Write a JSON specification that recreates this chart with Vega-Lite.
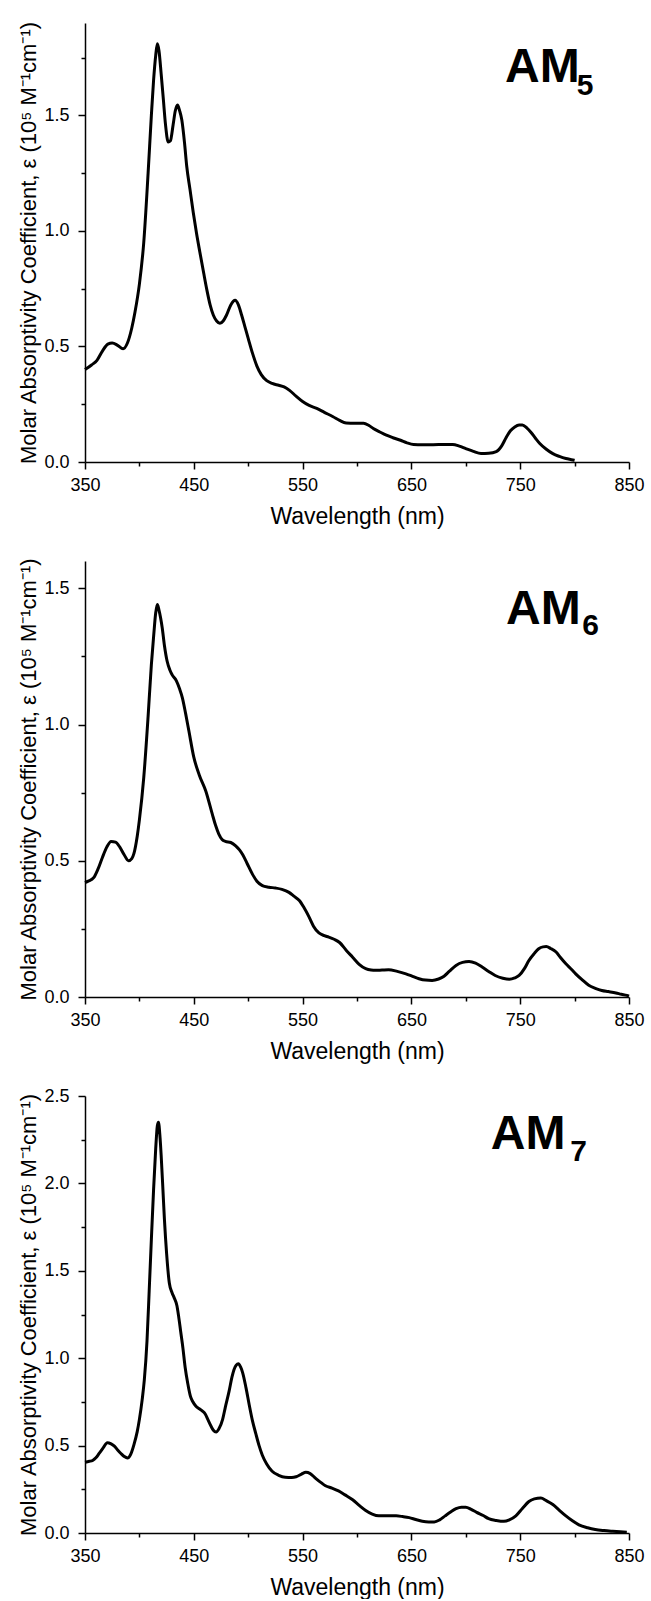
{
"$schema": "https://vega.github.io/schema/vega-lite/v6.json",
"background": "white",
"padding": {"left": 17, "top": 20, "right": 5, "bottom": 0},
"bounds": "flush",
"spacing": 99,
"config": {
 "view": {"stroke": null},
 "font": "Liberation Sans",
 "axis": {"grid": false, "domainColor": "black", "tickColor": "black", "labelColor": "black", "titleColor": "black", "domainWidth": 1.5, "tickWidth": 1.5, "labelFlush": false, "labelOverlap": false, "labelFont": "Liberation Sans", "titleFont": "Liberation Sans", "labelFontSize": 18, "titleFontWeight": "normal"}
},
"datasets": {
 "am5": [
  {"wl":350,"eps":0.40},{"wl":356,"eps":0.42},{"wl":361,"eps":0.44},{"wl":366,"eps":0.48},{"wl":371,"eps":0.51},{"wl":375,"eps":0.515},{"wl":380,"eps":0.505},{"wl":385,"eps":0.49},{"wl":389,"eps":0.515},{"wl":393,"eps":0.58},{"wl":396,"eps":0.65},{"wl":400,"eps":0.77},{"wl":404,"eps":0.95},{"wl":408,"eps":1.25},{"wl":411,"eps":1.5},{"wl":413,"eps":1.65},{"wl":415,"eps":1.76},{"wl":416.5,"eps":1.81},{"wl":418,"eps":1.78},{"wl":420,"eps":1.68},{"wl":422,"eps":1.57},{"wl":424,"eps":1.46},{"wl":426.5,"eps":1.385},{"wl":428.5,"eps":1.39},{"wl":431,"eps":1.46},{"wl":433,"eps":1.52},{"wl":435,"eps":1.545},{"wl":437,"eps":1.52},{"wl":439,"eps":1.48},{"wl":441.5,"eps":1.38},{"wl":443.5,"eps":1.28},{"wl":446.5,"eps":1.18},{"wl":449.5,"eps":1.08},{"wl":452.5,"eps":0.99},{"wl":455.5,"eps":0.91},{"wl":459,"eps":0.82},{"wl":462,"eps":0.745},{"wl":465,"eps":0.68},{"wl":468,"eps":0.635},{"wl":471,"eps":0.61},{"wl":474,"eps":0.60},{"wl":477,"eps":0.61},{"wl":480,"eps":0.635},{"wl":484,"eps":0.68},{"wl":488,"eps":0.70},{"wl":491,"eps":0.68},{"wl":494,"eps":0.635},{"wl":497,"eps":0.585},{"wl":500,"eps":0.535},{"wl":504,"eps":0.47},{"wl":508,"eps":0.415},{"wl":512,"eps":0.378},{"wl":517,"eps":0.352},{"wl":522,"eps":0.34},{"wl":528,"eps":0.332},{"wl":533,"eps":0.325},{"wl":538,"eps":0.31},{"wl":544,"eps":0.285},{"wl":550,"eps":0.262},{"wl":556,"eps":0.245},{"wl":563,"eps":0.232},{"wl":570,"eps":0.215},{"wl":578,"eps":0.196},{"wl":584,"eps":0.18},{"wl":590,"eps":0.169},{"wl":598,"eps":0.168},{"wl":606,"eps":0.168},{"wl":611,"eps":0.158},{"wl":615,"eps":0.145},{"wl":621,"eps":0.13},{"wl":627,"eps":0.116},{"wl":633,"eps":0.105},{"wl":640,"eps":0.094},{"wl":646,"eps":0.083},{"wl":652,"eps":0.076},{"wl":660,"eps":0.075},{"wl":670,"eps":0.075},{"wl":680,"eps":0.076},{"wl":688,"eps":0.076},{"wl":694,"eps":0.069},{"wl":700,"eps":0.058},{"wl":707,"eps":0.046},{"wl":714,"eps":0.037},{"wl":721,"eps":0.038},{"wl":728,"eps":0.045},{"wl":733,"eps":0.07},{"wl":737,"eps":0.105},{"wl":741,"eps":0.135},{"wl":745,"eps":0.152},{"wl":749,"eps":0.16},{"wl":752,"eps":0.16},{"wl":756,"eps":0.148},{"wl":760,"eps":0.128},{"wl":764,"eps":0.103},{"wl":768,"eps":0.08},{"wl":774,"eps":0.055},{"wl":780,"eps":0.036},{"wl":786,"eps":0.024},{"wl":792,"eps":0.015},{"wl":797,"eps":0.01},{"wl":800,"eps":0.007}
 ],
 "am6": [
  {"wl":350,"eps":0.42},{"wl":353,"eps":0.425},{"wl":358,"eps":0.438},{"wl":362,"eps":0.47},{"wl":366,"eps":0.512},{"wl":370,"eps":0.55},{"wl":374,"eps":0.571},{"wl":378,"eps":0.568},{"wl":382,"eps":0.55},{"wl":386,"eps":0.522},{"wl":390,"eps":0.50},{"wl":393,"eps":0.508},{"wl":395,"eps":0.527},{"wl":398,"eps":0.59},{"wl":400,"eps":0.65},{"wl":404,"eps":0.805},{"wl":408,"eps":1.03},{"wl":411,"eps":1.22},{"wl":413,"eps":1.32},{"wl":415,"eps":1.41},{"wl":416.5,"eps":1.44},{"wl":418,"eps":1.42},{"wl":421,"eps":1.354},{"wl":423,"eps":1.29},{"wl":425.5,"eps":1.232},{"wl":428,"eps":1.2},{"wl":430,"eps":1.183},{"wl":434,"eps":1.16},{"wl":437,"eps":1.13},{"wl":439.5,"eps":1.098},{"wl":442.5,"eps":1.04},{"wl":445.5,"eps":0.976},{"wl":450,"eps":0.88},{"wl":455,"eps":0.815},{"wl":461,"eps":0.756},{"wl":467,"eps":0.671},{"wl":470,"eps":0.63},{"wl":473,"eps":0.598},{"wl":476,"eps":0.578},{"wl":479,"eps":0.571},{"wl":484,"eps":0.567},{"wl":488.5,"eps":0.555},{"wl":492,"eps":0.54},{"wl":495,"eps":0.522},{"wl":499,"eps":0.49},{"wl":504,"eps":0.45},{"wl":508,"eps":0.425},{"wl":513,"eps":0.409},{"wl":519,"eps":0.403},{"wl":525,"eps":0.40},{"wl":531,"eps":0.395},{"wl":537.5,"eps":0.384},{"wl":542,"eps":0.37},{"wl":547,"eps":0.354},{"wl":551,"eps":0.33},{"wl":556,"eps":0.293},{"wl":560,"eps":0.26},{"wl":565,"eps":0.235},{"wl":570,"eps":0.225},{"wl":574,"eps":0.22},{"wl":579,"eps":0.212},{"wl":584,"eps":0.2},{"wl":590,"eps":0.172},{"wl":596,"eps":0.146},{"wl":602,"eps":0.12},{"wl":608,"eps":0.104},{"wl":613,"eps":0.099},{"wl":617,"eps":0.098},{"wl":623,"eps":0.099},{"wl":629,"eps":0.10},{"wl":637,"eps":0.094},{"wl":645,"eps":0.085},{"wl":651,"eps":0.076},{"wl":657,"eps":0.067},{"wl":663,"eps":0.062},{"wl":669,"eps":0.061},{"wl":675,"eps":0.066},{"wl":680,"eps":0.076},{"wl":685,"eps":0.095},{"wl":691,"eps":0.116},{"wl":697,"eps":0.127},{"wl":703,"eps":0.13},{"wl":709,"eps":0.124},{"wl":715,"eps":0.11},{"wl":721,"eps":0.094},{"wl":727,"eps":0.079},{"wl":734,"eps":0.069},{"wl":740,"eps":0.065},{"wl":745,"eps":0.07},{"wl":749,"eps":0.079},{"wl":754,"eps":0.105},{"wl":758,"eps":0.134},{"wl":763,"eps":0.16},{"wl":767,"eps":0.177},{"wl":771,"eps":0.184},{"wl":774,"eps":0.185},{"wl":778,"eps":0.178},{"wl":783,"eps":0.165},{"wl":787,"eps":0.145},{"wl":792,"eps":0.122},{"wl":797,"eps":0.102},{"wl":801,"eps":0.085},{"wl":807,"eps":0.063},{"wl":813,"eps":0.043},{"wl":819,"eps":0.032},{"wl":825,"eps":0.024},{"wl":831,"eps":0.02},{"wl":838,"eps":0.015},{"wl":843,"eps":0.01},{"wl":848,"eps":0.006},{"wl":850,"eps":0.003}
 ],
 "am7": [
  {"wl":350,"eps":0.405},{"wl":354,"eps":0.41},{"wl":357,"eps":0.415},{"wl":360,"eps":0.43},{"wl":363,"eps":0.455},{"wl":367,"eps":0.49},{"wl":370.5,"eps":0.517},{"wl":374,"eps":0.51},{"wl":377,"eps":0.497},{"wl":380,"eps":0.475},{"wl":383,"eps":0.455},{"wl":386,"eps":0.438},{"wl":389,"eps":0.429},{"wl":392,"eps":0.45},{"wl":395,"eps":0.506},{"wl":398,"eps":0.58},{"wl":400,"eps":0.65},{"wl":402.5,"eps":0.76},{"wl":404.5,"eps":0.874},{"wl":407,"eps":1.1},{"wl":409,"eps":1.386},{"wl":411,"eps":1.68},{"wl":413,"eps":1.96},{"wl":415,"eps":2.2},{"wl":416.5,"eps":2.33},{"wl":417.5,"eps":2.35},{"wl":419,"eps":2.26},{"wl":420,"eps":2.16},{"wl":421.5,"eps":1.98},{"wl":423,"eps":1.794},{"wl":425,"eps":1.6},{"wl":427.5,"eps":1.43},{"wl":430,"eps":1.375},{"wl":432,"eps":1.345},{"wl":434.5,"eps":1.3},{"wl":436,"eps":1.242},{"wl":438,"eps":1.15},{"wl":440,"eps":1.058},{"wl":442,"eps":0.95},{"wl":444.5,"eps":0.854},{"wl":447,"eps":0.78},{"wl":449,"eps":0.752},{"wl":452,"eps":0.725},{"wl":455,"eps":0.711},{"wl":458,"eps":0.697},{"wl":460.5,"eps":0.681},{"wl":463,"eps":0.648},{"wl":466,"eps":0.609},{"wl":468,"eps":0.588},{"wl":470.5,"eps":0.578},{"wl":473,"eps":0.595},{"wl":476.5,"eps":0.65},{"wl":479,"eps":0.72},{"wl":482.5,"eps":0.813},{"wl":485,"eps":0.89},{"wl":487,"eps":0.936},{"wl":489,"eps":0.96},{"wl":491,"eps":0.968},{"wl":493,"eps":0.95},{"wl":495,"eps":0.915},{"wl":498,"eps":0.83},{"wl":501,"eps":0.731},{"wl":504,"eps":0.64},{"wl":507,"eps":0.568},{"wl":510,"eps":0.5},{"wl":513,"eps":0.445},{"wl":517,"eps":0.395},{"wl":522,"eps":0.353},{"wl":528,"eps":0.33},{"wl":534,"eps":0.319},{"wl":540,"eps":0.318},{"wl":544,"eps":0.322},{"wl":549,"eps":0.337},{"wl":553,"eps":0.347},{"wl":557,"eps":0.34},{"wl":562,"eps":0.313},{"wl":567,"eps":0.288},{"wl":571,"eps":0.27},{"wl":577,"eps":0.257},{"wl":583,"eps":0.241},{"wl":589,"eps":0.218},{"wl":596,"eps":0.19},{"wl":602,"eps":0.158},{"wl":608,"eps":0.129},{"wl":614,"eps":0.108},{"wl":620,"eps":0.098},{"wl":628,"eps":0.098},{"wl":636,"eps":0.098},{"wl":642,"eps":0.094},{"wl":648,"eps":0.088},{"wl":654,"eps":0.077},{"wl":660,"eps":0.067},{"wl":666,"eps":0.063},{"wl":671,"eps":0.063},{"wl":676,"eps":0.075},{"wl":681,"eps":0.098},{"wl":686,"eps":0.12},{"wl":691,"eps":0.139},{"wl":696,"eps":0.148},{"wl":700,"eps":0.148},{"wl":705,"eps":0.135},{"wl":710,"eps":0.118},{"wl":716,"eps":0.1},{"wl":721,"eps":0.082},{"wl":728,"eps":0.072},{"wl":735,"eps":0.067},{"wl":740,"eps":0.075},{"wl":746,"eps":0.098},{"wl":752,"eps":0.14},{"wl":758,"eps":0.18},{"wl":763,"eps":0.195},{"wl":769,"eps":0.2},{"wl":774,"eps":0.185},{"wl":780,"eps":0.163},{"wl":786,"eps":0.13},{"wl":792,"eps":0.098},{"wl":798,"eps":0.07},{"wl":804,"eps":0.047},{"wl":812,"eps":0.03},{"wl":819,"eps":0.02},{"wl":827,"eps":0.014},{"wl":835,"eps":0.01},{"wl":842,"eps":0.007},{"wl":848,"eps":0.005}
 ],
 "labels": [
  {"panel":"AM5","part":"main","text":"AM","wl":736,"eps":1.645},
  {"panel":"AM5","part":"sub","text":"5","wl":802,"eps":1.587},
  {"panel":"AM6","part":"main","text":"AM","wl":737,"eps":1.368},
  {"panel":"AM6","part":"sub","text":"6","wl":807,"eps":1.329},
  {"panel":"AM7","part":"main","text":"AM","wl":723,"eps":2.194},
  {"panel":"AM7","part":"sub","text":"7","wl":796,"eps":2.126}
 ]
},
"vconcat": [
 {
  "width": 544, "height": 439,
  "layer": [
   {"data": {"name": "am5"}, "mark": {"type": "line", "color": "black", "strokeWidth": 3, "interpolate": "monotone"},
    "encoding": {
     "x": {"field": "wl", "type": "quantitative", "scale": {"domain": [350, 850], "nice": false, "zero": false},
       "axis": {"values": [350,400,450,500,550,600,650,700,750,800,850], "labelExpr": "datum.value % 100 === 50 ? datum.label : ''", "tickSize": {"condition": {"test": "datum.value % 100 === 50", "value": 7}, "value": 4}, "labelPadding": 7, "title": "Wavelength (nm)", "titleFontSize": 23, "titlePadding": 11}},
     "y": {"field": "eps", "type": "quantitative", "scale": {"domain": [0, 1.9], "nice": false},
       "axis": {"values": [0,0.25,0.5,0.75,1,1.25,1.5,1.75], "labelExpr": "abs(datum.value*2 - round(datum.value*2)) < 0.001 ? format(datum.value, '.1f') : ''", "tickSize": {"condition": {"test": "abs(datum.value*2 - round(datum.value*2)) < 0.001", "value": 7}, "value": 4}, "labelPadding": 9, "title": "Molar Absorptivity Coefficient, ε (10⁵ M⁻¹cm⁻¹)", "titleFontSize": 22, "titlePadding": 3}}
    }},
   {"data": {"name": "labels"}, "transform": [{"filter": "datum.panel === 'AM5' && datum.part === 'main'"}],
    "mark": {"type": "text", "fontWeight": "bold", "fontSize": 48, "align": "left", "baseline": "alphabetic", "color": "black"},
    "encoding": {"x": {"field": "wl", "type": "quantitative"}, "y": {"field": "eps", "type": "quantitative"}, "text": {"field": "text"}}},
   {"data": {"name": "labels"}, "transform": [{"filter": "datum.panel === 'AM5' && datum.part === 'sub'"}],
    "mark": {"type": "text", "fontWeight": "bold", "fontSize": 30, "align": "left", "baseline": "alphabetic", "color": "black"},
    "encoding": {"x": {"field": "wl", "type": "quantitative"}, "y": {"field": "eps", "type": "quantitative"}, "text": {"field": "text"}}}
  ]
 },
 {
  "width": 544, "height": 436,
  "layer": [
   {"data": {"name": "am6"}, "mark": {"type": "line", "color": "black", "strokeWidth": 3, "interpolate": "monotone"},
    "encoding": {
     "x": {"field": "wl", "type": "quantitative", "scale": {"domain": [350, 850], "nice": false, "zero": false},
       "axis": {"values": [350,400,450,500,550,600,650,700,750,800,850], "labelExpr": "datum.value % 100 === 50 ? datum.label : ''", "tickSize": {"condition": {"test": "datum.value % 100 === 50", "value": 7}, "value": 4}, "labelPadding": 7, "title": "Wavelength (nm)", "titleFontSize": 23, "titlePadding": 11}},
     "y": {"field": "eps", "type": "quantitative", "scale": {"domain": [0, 1.6], "nice": false},
       "axis": {"values": [0,0.25,0.5,0.75,1,1.25,1.5], "labelExpr": "abs(datum.value*2 - round(datum.value*2)) < 0.001 ? format(datum.value, '.1f') : ''", "tickSize": {"condition": {"test": "abs(datum.value*2 - round(datum.value*2)) < 0.001", "value": 7}, "value": 4}, "labelPadding": 9, "title": "Molar Absorptivity Coefficient, ε (10⁵ M⁻¹cm⁻¹)", "titleFontSize": 22, "titlePadding": 3}}
    }},
   {"data": {"name": "labels"}, "transform": [{"filter": "datum.panel === 'AM6' && datum.part === 'main'"}],
    "mark": {"type": "text", "fontWeight": "bold", "fontSize": 48, "align": "left", "baseline": "alphabetic", "color": "black"},
    "encoding": {"x": {"field": "wl", "type": "quantitative"}, "y": {"field": "eps", "type": "quantitative"}, "text": {"field": "text"}}},
   {"data": {"name": "labels"}, "transform": [{"filter": "datum.panel === 'AM6' && datum.part === 'sub'"}],
    "mark": {"type": "text", "fontWeight": "bold", "fontSize": 30, "align": "left", "baseline": "alphabetic", "color": "black"},
    "encoding": {"x": {"field": "wl", "type": "quantitative"}, "y": {"field": "eps", "type": "quantitative"}, "text": {"field": "text"}}}
  ]
 },
 {
  "width": 544, "height": 437,
  "layer": [
   {"data": {"name": "am7"}, "mark": {"type": "line", "color": "black", "strokeWidth": 3, "interpolate": "monotone"},
    "encoding": {
     "x": {"field": "wl", "type": "quantitative", "scale": {"domain": [350, 850], "nice": false, "zero": false},
       "axis": {"values": [350,400,450,500,550,600,650,700,750,800,850], "labelExpr": "datum.value % 100 === 50 ? datum.label : ''", "tickSize": {"condition": {"test": "datum.value % 100 === 50", "value": 7}, "value": 4}, "labelPadding": 7, "title": "Wavelength (nm)", "titleFontSize": 23, "titlePadding": 11}},
     "y": {"field": "eps", "type": "quantitative", "scale": {"domain": [0, 2.5], "nice": false},
       "axis": {"values": [0,0.25,0.5,0.75,1,1.25,1.5,1.75,2,2.25,2.5], "labelExpr": "abs(datum.value*2 - round(datum.value*2)) < 0.001 ? format(datum.value, '.1f') : ''", "tickSize": {"condition": {"test": "abs(datum.value*2 - round(datum.value*2)) < 0.001", "value": 7}, "value": 4}, "labelPadding": 9, "title": "Molar Absorptivity Coefficient, ε (10⁵ M⁻¹cm⁻¹)", "titleFontSize": 22, "titlePadding": 3}}
    }},
   {"data": {"name": "labels"}, "transform": [{"filter": "datum.panel === 'AM7' && datum.part === 'main'"}],
    "mark": {"type": "text", "fontWeight": "bold", "fontSize": 48, "align": "left", "baseline": "alphabetic", "color": "black"},
    "encoding": {"x": {"field": "wl", "type": "quantitative"}, "y": {"field": "eps", "type": "quantitative"}, "text": {"field": "text"}}},
   {"data": {"name": "labels"}, "transform": [{"filter": "datum.panel === 'AM7' && datum.part === 'sub'"}],
    "mark": {"type": "text", "fontWeight": "bold", "fontSize": 30, "align": "left", "baseline": "alphabetic", "color": "black"},
    "encoding": {"x": {"field": "wl", "type": "quantitative"}, "y": {"field": "eps", "type": "quantitative"}, "text": {"field": "text"}}}
  ]
 }
]
}
